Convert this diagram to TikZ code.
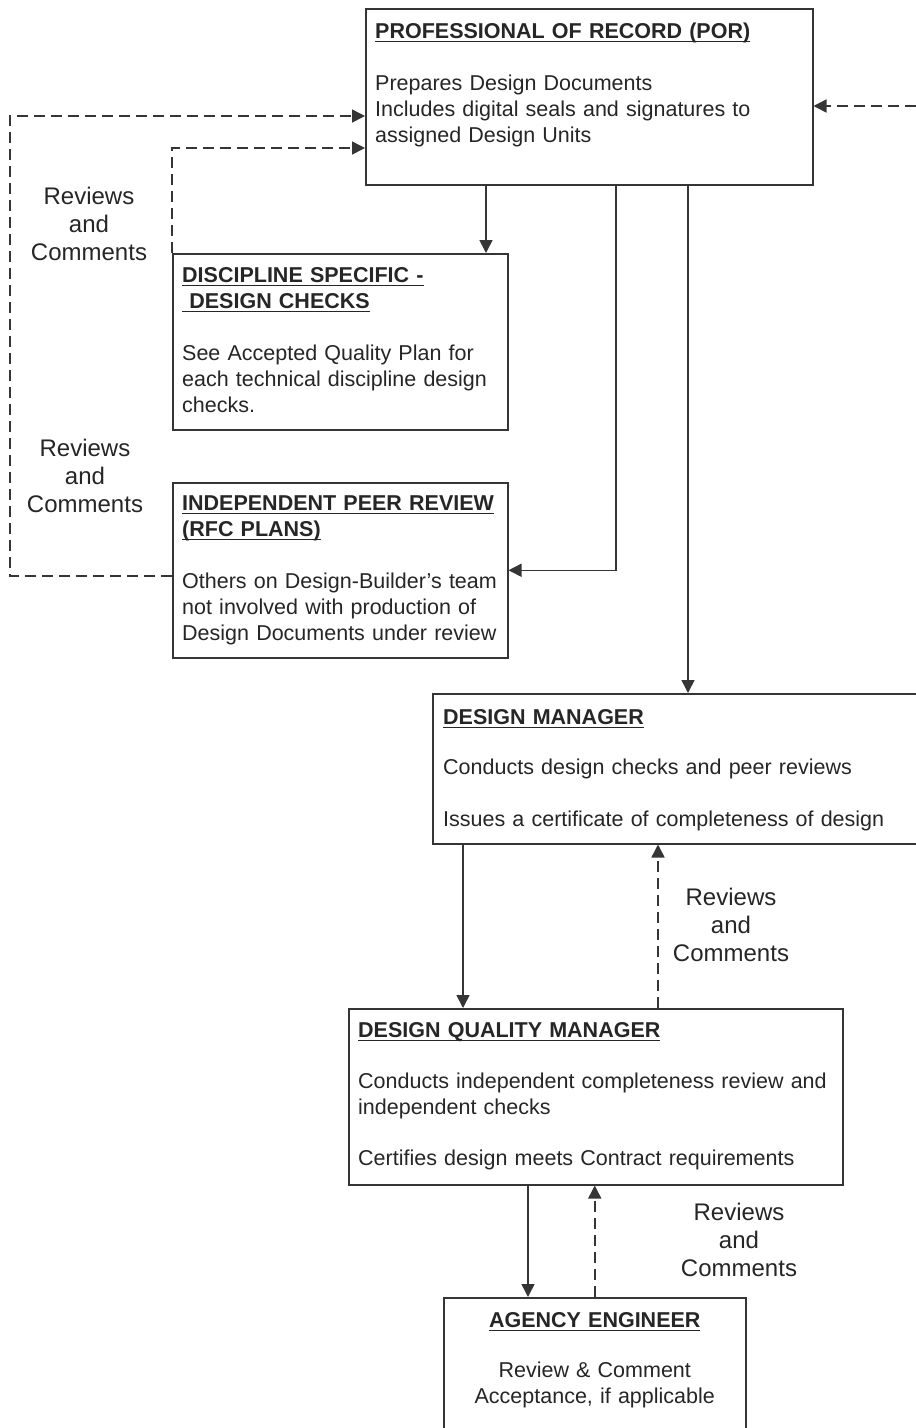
\documentclass[tikz,border=0pt]{standalone}
\usepackage{fontspec}
\setmainfont{Liberation Sans}
\usetikzlibrary{arrows.meta}

\definecolor{ink}{HTML}{262626}
\definecolor{rulecol}{HTML}{353535}

% underlined bold heading
\newsavebox{\hdbox}
\newcommand{\hd}[1]{\leavevmode\sbox{\hdbox}{\bfseries #1}%
  \rlap{\rule[-4pt]{\wd\hdbox}{1.4pt}}\usebox{\hdbox}}

\begin{document}
\begin{tikzpicture}[x=1pt,y=-1pt,
  box/.style={draw=rulecol, line width=1.5pt, rectangle, inner sep=0pt, anchor=north west},
  body/.style={inner sep=0pt, anchor=base west, align=left, text=ink,
    font=\fontsize{21.5}{26}\selectfont},
  lbl/.style={inner sep=0pt, align=center, text=ink,
    font=\fontsize{24}{28}\selectfont},
  flow/.style={draw=rulecol, line width=1.5pt, -{Triangle[length=13pt,width=13pt]}},
  back/.style={flow, dash pattern=on 11pt off 6pt},
]
\path[use as bounding box] (0,0) rectangle (916,1428);
\clip (0,0) rectangle (916,1428);
\fill[white] (0,0) rectangle (916,1428);

% ---- boxes ----
\node[box, minimum width=447pt, minimum height=176pt] (por) at (365,8) {};
\node[box, minimum width=335pt, minimum height=176pt] (dsdc) at (172,253) {};
\node[box, minimum width=335pt, minimum height=175pt] (ipr) at (172,482) {};
\node[box, minimum width=495pt, minimum height=150pt] (dm) at (432,693) {};
\node[box, minimum width=494pt, minimum height=176pt] (dqm) at (348,1008) {};
\node[box, minimum width=302pt, minimum height=150pt] (ae) at (443,1297) {};

% ---- box texts ----
\node[body, text width=425pt] (portxt) at ([xshift=10pt,yshift=-30pt]por.north west)
  {\hd{PROFESSIONAL OF RECORD (POR)}\\[26pt]
   Prepares Design Documents\\
   Includes digital seals and signatures to\\
   assigned Design Units};
\node[body, text width=320pt] (dsdctxt) at ([xshift=10pt,yshift=-29pt]dsdc.north west)
  {\hd{DISCIPLINE SPECIFIC -}\\
   \hd{\ DESIGN CHECKS}\\[26pt]
   See Accepted Quality Plan for\\
   each technical discipline design\\
   checks.};
\node[body, text width=320pt] (iprtxt) at ([xshift=10pt,yshift=-28pt]ipr.north west)
  {\hd{INDEPENDENT PEER REVIEW}\\
   \hd{(RFC PLANS)}\\[26pt]
   Others on Design-Builder's team\\
   not involved with production of\\
   Design Documents under review};
\node[body, text width=470pt] (dmtxt) at ([xshift=11pt,yshift=-31pt]dm.north west)
  {\hd{DESIGN MANAGER}\\[24pt]
   Conducts design checks and peer reviews\\[26pt]
   Issues a certificate of completeness of design};
\node[body, text width=480pt] (dqmtxt) at ([xshift=10pt,yshift=-29pt]dqm.north west)
  {\hd{DESIGN QUALITY MANAGER}\\[25pt]
   Conducts independent completeness review and\\
   independent checks\\[25pt]
   Certifies design meets Contract requirements};
\node[body, anchor=base, align=center, text width=290pt] (aetxt) at ([yshift=-30pt]ae.north)
  {\hd{AGENCY ENGINEER}\\[24pt]
   Review \& Comment\\
   Acceptance, if applicable};

% ---- labels ----
\node[lbl] (rc1) at (89,224) {Reviews\\and\\Comments};
\node[lbl] (rc2) at (85,476) {Reviews\\and\\Comments};
\node[lbl] (rc3) at (731,925) {Reviews\\and\\Comments};
\node[lbl] (rc4) at (739,1240) {Reviews\\and\\Comments};

% ---- forward flow ----
\draw[flow] (por.south -| 486,0) -- (dsdc.north -| 486,0);
\draw[flow] (por.south -| 616,0) |- (ipr.east);
\draw[flow] (por.south -| 688,0) -- (dm.north -| 688,0);
\draw[flow] (dm.south -| 463,0) -- (dqm.north -| 463,0);
\draw[flow] (dqm.south -| 528,0) -- (ae.north -| 528,0);

% ---- review and comment returns ----
\draw[back] (dqm.north -| 658,0) -- (dm.south -| 658,0);
\draw[back] (ae.north) -- (ae.north |- dqm.south);
\draw[back] (ipr.west |- 0,576) -- (10,576) |- (por.west |- 0,116);
\draw[back] (dsdc.north west) |- (por.west |- 0,148);
\coordinate (ext) at (916,106);
\draw[back] (ext) -- (por.east |- ext);
\end{tikzpicture}
\end{document}
